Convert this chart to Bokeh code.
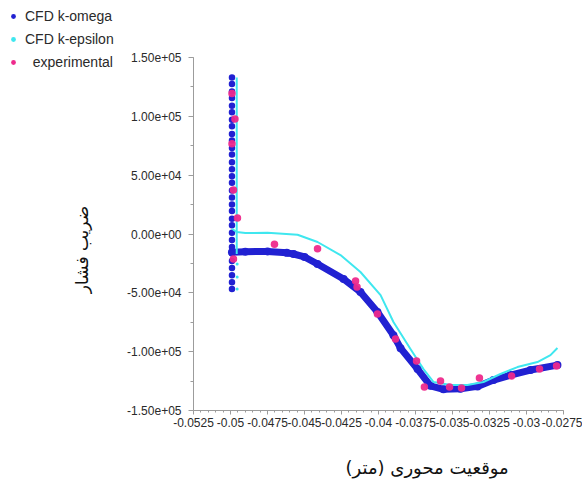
import numpy as np
from bokeh.plotting import figure
from bokeh.layouts import row
from bokeh.models import Range1d, FixedTicker, Legend, LegendItem, Label
from bokeh.embed import file_html
from bokeh.resources import INLINE

# --- CFD k-omega: wall column of points at the step, then the surface curve ---
komega_wall_x = [-0.0499] * 31
komega_wall_y = [133000, 127500, 121000, 115500, 109000, 103500, 97000, 91500,
                 85000, 79500, 73000, 67500, 61000, 55000, 49000, 43500, 37000,
                 31000, 25000, 19500, 13000, 7500, 1000, -5000, -11000, -16500,
                 -23000, -29000, -35000, -41000, -46800]
komega_x = [-0.0499, -0.0490, -0.0475, -0.0462, -0.04574, -0.0450, -0.04412,
            -0.04236, -0.04122, -0.04007, -0.03899, -0.03851, -0.03736,
            -0.03649, -0.03561, -0.03446, -0.03331, -0.03223, -0.03108,
            -0.02973, -0.02791]
komega_y = [-15500, -15000, -14800, -16000, -17000, -19500, -25500, -38300,
            -49300, -66300, -86000, -97000, -114800, -129000, -132000,
            -131500, -129500, -124100, -119900, -115600, -111400]

# --- CFD k-epsilon: wall segment, surface curve and stray points below ---
keps_wall_x = [-0.04958, -0.04958]
keps_wall_y = [133000, -17000]
keps_x = [-0.0499, -0.04958, -0.0490, -0.0475, -0.04547, -0.04412, -0.04257,
          -0.04122, -0.03986, -0.03899, -0.03784, -0.03696, -0.03628,
          -0.03514, -0.03399, -0.03291, -0.03176, -0.03061, -0.02926,
          -0.02838, -0.02791]
keps_y = [4500, 1700, 800, 1000, -600, -6800, -17900, -32300, -51900, -74800,
          -97800, -114800, -125800, -128400, -128400, -125800, -119000,
          -113100, -108800, -102900, -96900]
keps_pts_x = [-0.04955, -0.04955, -0.04955]
keps_pts_y = [-25500, -36600, -46800]

# --- experimental measurements ---
exp_x = [-0.0499, -0.0497, -0.0499, -0.0498, -0.04953, -0.0498, -0.04703,
         -0.04412, -0.04155, -0.04145, -0.04007, -0.03885, -0.03743,
         -0.0369, -0.03581, -0.0352, -0.03439, -0.03318, -0.03101,
         -0.02912, -0.02797]
exp_y = [119300, 97800, 76800, 37400, 13600, -21300, -8800, -12500, -40000,
         -45000, -68000, -89300, -108000, -130100, -125000, -130100,
         -130900, -122400, -120700, -114800, -112200]

# --- axis ticks and labels ---
x_ticks = [-0.0525, -0.05, -0.0475, -0.045, -0.0425, -0.04, -0.0375, -0.035,
           -0.0325, -0.03, -0.0275]
x_tick_labels = ["-0.0525", "-0.05", "-0.0475", "-0.045", "-0.0425", "-0.04",
                 "-0.0375", "-0.035", "-0.0325", "-0.03", "-0.0275"]
y_ticks = [-150000, -100000, -50000, 0, 50000, 100000, 150000]
y_tick_labels = ["-1.50e+05", "-1.00e+05", "-5.00e+04", "0.00e+00",
                 "5.00e+04", "1.00e+05", "1.50e+05"]

series_names = ["CFD k-omega", "CFD k-epsilon", "\u00a0\u00a0experimental"]
x_title = "موقعیت محوری (متر)"
y_title = "ضریب فشار"

BLUE = "#2121d2"
CYAN = "#3fe7ef"
PINK = "#ee2a8c"
AXIS_GRAY = "#9c9c9c"
TEXT = "#2a2a2a"

# page geometry (pixels)
W, H = 582, 487
SIDE_W = 120
AXES_LEFT, AXES_RIGHT = 193, 563
AXES_TOP, AXES_BOTTOM = 57, 410
Y_MIN, Y_MAX = -150000, 150000

# the plotting frame reaches the top of the page so the legend strip beside it
# is not clipped; the y axis itself stays bounded to [Y_MIN, Y_MAX]
y_per_px = (Y_MAX - Y_MIN) / (AXES_BOTTOM - AXES_TOP)
y_top = Y_MAX + AXES_TOP * y_per_px

# ---------------- main chart ----------------
p = figure(width=W - SIDE_W, height=H, output_backend="svg",
           toolbar_location=None,
           x_range=Range1d(-0.0525, -0.0275), y_range=Range1d(Y_MIN, y_top),
           min_border_left=AXES_LEFT - SIDE_W, min_border_right=W - AXES_RIGHT,
           min_border_top=0, min_border_bottom=H - AXES_BOTTOM)
p.outline_line_color = None
p.grid.visible = False
p.background_fill_color = "white"
p.border_fill_color = "white"

# k-omega
p.line(komega_x, komega_y, line_color=BLUE, line_width=7, line_join="round",
       line_cap="round")
p.scatter(komega_x, komega_y, size=8, fill_color=BLUE, line_color=None)
p.scatter(komega_wall_x, komega_wall_y, size=6.5, fill_color=BLUE,
          line_color=None)

# k-epsilon
p.line(keps_wall_x, keps_wall_y, line_color=CYAN, line_width=2)
p.line(keps_x, keps_y, line_color=CYAN, line_width=2, line_join="round")
p.scatter(keps_pts_x, keps_pts_y, size=3, fill_color=CYAN, line_color=None)

# experimental
p.scatter(exp_x, exp_y, size=7.5, fill_color=PINK, line_color=None,
          fill_alpha=0.95)

# axes
xa = p.xaxis[0]
xa.ticker = FixedTicker(ticks=x_ticks,
                        minor_ticks=list(np.linspace(-0.0525, -0.0275, 51)))
xa.major_label_overrides = dict(zip(x_ticks, x_tick_labels))
ya = p.yaxis[0]
ya.ticker = FixedTicker(ticks=y_ticks,
                        minor_ticks=list(np.linspace(Y_MIN, Y_MAX, 13)))
ya.major_label_overrides = dict(zip(y_ticks, y_tick_labels))
ya.bounds = (Y_MIN, Y_MAX)

for ax in (xa, ya):
    ax.axis_line_color = AXIS_GRAY
    ax.major_tick_line_color = AXIS_GRAY
    ax.minor_tick_line_color = AXIS_GRAY
    ax.major_tick_in = 0
    ax.minor_tick_in = 0
    ax.major_label_text_font = "Liberation Sans"
    ax.major_label_text_font_size = "12px"
    ax.major_label_text_color = TEXT
    ax.major_label_text_font_style = "normal"

xa.major_tick_out = 4
xa.minor_tick_out = 2
xa.major_label_standoff = 3
ya.major_tick_out = 5
ya.minor_tick_out = 3
ya.major_label_standoff = 7

# x title sits right of the frame centre: pad its start with no-break spaces
xa.axis_label = "\u00a0" * 17 + x_title
xa.axis_label_standoff = 27
xa.axis_label_text_font = "DejaVu Sans"
xa.axis_label_text_font_size = "18px"
xa.axis_label_text_font_style = "normal"
xa.axis_label_text_color = "#111111"

# ---------------- side strip: legend and vertical title ----------------
s = figure(width=SIDE_W, height=H, output_backend="svg",
           toolbar_location=None, x_axis_location=None, y_axis_location=None,
           x_range=Range1d(0, 1), y_range=Range1d(0, 1), min_border=0)
s.outline_line_color = None
s.grid.visible = False
s.background_fill_color = "white"
s.border_fill_color = "white"

# legend proxies: the series fall outside this strip's 0..1 ranges, so only
# their styling shows up, in the legend
leg_omega = s.scatter(komega_x, komega_y, size=6, fill_color=BLUE,
                      line_color=None)
leg_eps = s.scatter(keps_pts_x, keps_pts_y, size=6, fill_color=CYAN,
                    line_color=None)
leg_exp = s.scatter(exp_x, exp_y, size=6, fill_color=PINK, line_color=None)

legend = Legend(items=[
    LegendItem(label=series_names[0], renderers=[leg_omega]),
    LegendItem(label=series_names[1], renderers=[leg_eps]),
    LegendItem(label=series_names[2], renderers=[leg_exp]),
], location=(7, AXES_BOTTOM - 72), glyph_width=12, glyph_height=20,
   label_height=20, spacing=3, padding=0, margin=0, label_standoff=6,
   label_text_font="Liberation Sans", label_text_font_size="14px",
   label_text_color=TEXT, background_fill_alpha=0, border_line_alpha=0)
s.add_layout(legend)

s.add_layout(Label(x=81, y=AXES_BOTTOM - 249, x_units="screen",
                   y_units="screen", text=y_title, text_font="DejaVu Sans",
                   text_font_size="17px", text_color="#111111",
                   text_align="center", text_baseline="middle",
                   angle=np.pi / 2))

layout = row(s, p, spacing=0)
open("out.html", "w").write(file_html(layout, INLINE))
